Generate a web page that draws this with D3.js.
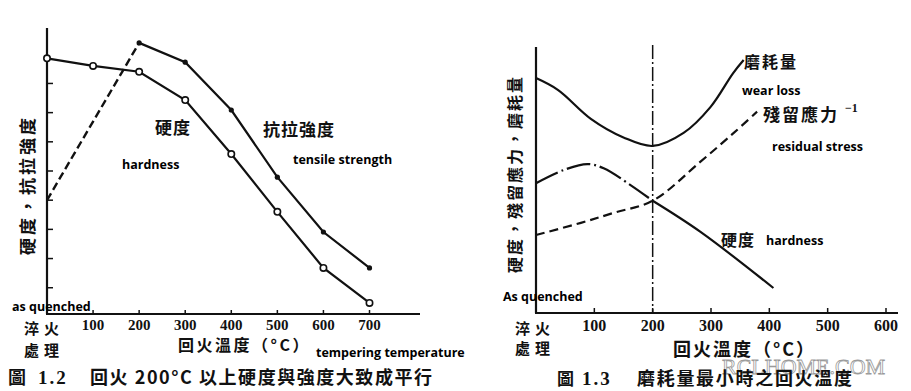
<!DOCTYPE html>
<html>
<head>
<meta charset="utf-8">
<script src="https://cdn.jsdelivr.net/npm/d3@7"></script>
<style>
  body { margin: 0; background: #fff; }
  svg { display: block; }
  .cjk { font-family: "Noto Sans CJK TC", "Noto Sans CJK SC", sans-serif; font-weight: 700; fill: #111; }
  .num { font-family: "Liberation Serif", serif; font-weight: 700; fill: #111; }
  .eng { font-family: "Open Sans", "Noto Sans", sans-serif; font-weight: 700; fill: #000; }
</style>
</head>
<body>
<div id="chart"></div>
<script>
// left panel: tempering vs hardness / tensile strength
const leftTemps = [0, 100, 200, 300, 400, 500, 600, 700];
const leftHardness = [8.86, 8.6, 8.4, 7.43, 5.58, 3.6, 1.68, 0.48];
const tensileTemps = [0, 200, 300, 400, 500, 600, 700];
const tensileStrength = [4.0, 9.39, 8.73, 7.09, 4.79, 2.91, 1.68];
const leftXTicks = [100, 200, 300, 400, 500, 600, 700];
const leftYTicks = [1, 2, 3, 4, 5, 6, 7, 8];

// right panel: wear loss, residual stress^-1, hardness
const wearTemps = [0, 38, 94, 150, 200, 253, 299, 338, 356];
const wearLoss = [8.83, 8.38, 7.3, 6.6, 6.28, 6.77, 7.74, 9.02, 9.51];
const hardTempsA = [0, 48, 88, 116, 162, 200];
const hardValuesA = [4.88, 5.38, 5.6, 5.44, 4.81, 4.22];
const hardTempsB = [200, 282, 407];
const hardValuesB = [4.22, 3.05, 0.94];
const stressTemps = [0, 77, 134, 200, 282, 339, 379];
const stressValues = [2.93, 3.39, 3.77, 4.22, 5.69, 6.77, 7.57];
const rightXTicks = [100, 200, 300, 400, 500, 600];
const minWearTemp = 200;

const svg = d3.select("#chart").append("svg")
  .attr("width", 911).attr("height", 391);
svg.append("rect").attr("width", 911).attr("height", 391).attr("fill", "#fff");

function zip(xs, ys) { return xs.map((x, i) => [x, ys[i]]); }

// ---------- left panel ----------
const xL = d3.scaleLinear().domain([0, 700]).range([47, 369.5]);
const yL = d3.scaleLinear().domain([0.1, 9.9]).range([314, 28]);
const gL = svg.append("g");

gL.append("line").attr("x1", 47).attr("x2", 47).attr("y1", 28).attr("y2", 314)
  .attr("stroke", "#111").attr("stroke-width", 2.2);
gL.append("line").attr("x1", 46).attr("x2", 420).attr("y1", 314).attr("y2", 314)
  .attr("stroke", "#111").attr("stroke-width", 2.2);
gL.selectAll(".yt").data(leftYTicks).join("line")
  .attr("x1", 47).attr("x2", 53).attr("y1", d => yL(d)).attr("y2", d => yL(d))
  .attr("stroke", "#111").attr("stroke-width", 1.5);
gL.selectAll(".xt").data(leftXTicks).join("line")
  .attr("x1", d => xL(d)).attr("x2", d => xL(d)).attr("y1", 314).attr("y2", 310)
  .attr("stroke", "#111").attr("stroke-width", 1.5);
gL.selectAll(".xl").data(leftXTicks).join("text").attr("class", "num")
  .attr("x", d => xL(d)).attr("y", 330).attr("text-anchor", "middle")
  .attr("font-size", 15).text(d => d);

const lineL = d3.line().x(d => xL(d[0])).y(d => yL(d[1]));
const tens = zip(tensileTemps, tensileStrength);
gL.append("path").attr("d", lineL(tens.slice(0, 2)))
  .attr("fill", "none").attr("stroke", "#111").attr("stroke-width", 2.4)
  .attr("stroke-dasharray", "8,4");
gL.append("path").attr("d", lineL(tens.slice(1)))
  .attr("fill", "none").attr("stroke", "#111").attr("stroke-width", 2.2);
gL.append("path").attr("d", lineL(zip(leftTemps, leftHardness)))
  .attr("fill", "none").attr("stroke", "#111").attr("stroke-width", 2.2);
gL.selectAll(".td").data(tens.slice(1)).join("circle")
  .attr("cx", d => xL(d[0])).attr("cy", d => yL(d[1])).attr("r", 2.6).attr("fill", "#111");
gL.selectAll(".hd").data(zip(leftTemps, leftHardness)).join("circle")
  .attr("cx", d => xL(d[0])).attr("cy", d => yL(d[1])).attr("r", 3.2)
  .attr("fill", "#fff").attr("stroke", "#111").attr("stroke-width", 1.6);

gL.append("text").attr("class", "cjk").attr("font-size", 17).attr("letter-spacing", 3)
  .attr("text-anchor", "middle").attr("transform", "translate(34,185) rotate(-90)")
  .text("硬度，抗拉強度");
gL.append("text").attr("class", "cjk").attr("x", 155).attr("y", 134).attr("font-size", 17).attr("letter-spacing", 1).text("硬度");
gL.append("text").attr("class", "cjk").attr("x", 263).attr("y", 136).attr("font-size", 17).attr("letter-spacing", 1).text("抗拉強度");
gL.append("text").attr("class", "eng").attr("x", 122).attr("y", 169).attr("font-size", 12.5).text("hardness");
gL.append("text").attr("class", "eng").attr("x", 293).attr("y", 164).attr("font-size", 12.5).text("tensile strength");
gL.append("text").attr("class", "eng").attr("x", 12).attr("y", 311).attr("font-size", 12.5).text("as quenched");
gL.append("text").attr("class", "cjk").attr("x", 24).attr("y", 334).attr("font-size", 15).attr("letter-spacing", 5).text("淬火");
gL.append("text").attr("class", "cjk").attr("x", 24).attr("y", 356).attr("font-size", 15).attr("letter-spacing", 5).text("處理");
gL.append("text").attr("class", "cjk").attr("x", 178).attr("y", 351).attr("font-size", 16).attr("letter-spacing", 2.5).text("回火溫度（°C）");
gL.append("text").attr("class", "eng").attr("x", 316).attr("y", 357).attr("font-size", 12.5).text("tempering temperature");
gL.append("text").attr("class", "cjk").attr("x", 8).attr("y", 384).attr("font-size", 18).text("圖");
gL.append("text").attr("class", "num").attr("x", 38).attr("y", 384).attr("font-size", 19).attr("letter-spacing", 2).text("1.2");
gL.append("text").attr("class", "cjk").attr("x", 90).attr("y", 384).attr("font-size", 18)
  .attr("textLength", 342).attr("lengthAdjust", "spacing").text("回火 200°C 以上硬度與強度大致成平行");

// ---------- right panel ----------
const xR = d3.scaleLinear().domain([0, 600]).range([536, 886]);
const yR = d3.scaleLinear().domain([0, 10]).range([313, 47]);
const gR = svg.append("g");

gR.append("line").attr("x1", 536).attr("x2", 536).attr("y1", 47).attr("y2", 313)
  .attr("stroke", "#111").attr("stroke-width", 2.2);
gR.append("line").attr("x1", 535).attr("x2", 898).attr("y1", 313).attr("y2", 313)
  .attr("stroke", "#111").attr("stroke-width", 2.2);
gR.selectAll(".xt").data(rightXTicks).join("line")
  .attr("x1", d => xR(d)).attr("x2", d => xR(d)).attr("y1", 313).attr("y2", 308)
  .attr("stroke", "#111").attr("stroke-width", 1.5);
gR.selectAll(".xl").data(rightXTicks).join("text").attr("class", "num")
  .attr("x", d => xR(d)).attr("y", 331).attr("text-anchor", "middle")
  .attr("font-size", 16).text(d => d);

gR.append("line").attr("x1", xR(minWearTemp)).attr("x2", xR(minWearTemp)).attr("y1", 45).attr("y2", 313)
  .attr("stroke", "#111").attr("stroke-width", 1.5).attr("stroke-dasharray", "14,3,2,3");

const lineR = d3.line().x(d => xR(d[0])).y(d => yR(d[1])).curve(d3.curveCatmullRom.alpha(0.5));
gR.append("path").attr("d", lineR(zip(wearTemps, wearLoss)))
  .attr("fill", "none").attr("stroke", "#111").attr("stroke-width", 2.2);
gR.append("path").attr("d", lineR(zip(hardTempsA, hardValuesA)))
  .attr("fill", "none").attr("stroke", "#111").attr("stroke-width", 2.2)
  .attr("stroke-dasharray", "24,4,2,4");
gR.append("path").attr("d", lineR(zip(hardTempsB, hardValuesB)))
  .attr("fill", "none").attr("stroke", "#111").attr("stroke-width", 2.2);
gR.append("path").attr("d", lineR(zip(stressTemps, stressValues)))
  .attr("fill", "none").attr("stroke", "#111").attr("stroke-width", 2.2)
  .attr("stroke-dasharray", "9,5");

gR.append("text").attr("class", "cjk").attr("font-size", 16).attr("letter-spacing", 2)
  .attr("text-anchor", "middle").attr("transform", "translate(521,174) rotate(-90)")
  .text("硬度，殘留應力，磨耗量");
gR.append("text").attr("class", "cjk").attr("x", 744).attr("y", 68).attr("font-size", 16).attr("letter-spacing", 2).text("磨耗量");
gR.append("text").attr("class", "eng").attr("x", 742).attr("y", 95).attr("font-size", 12.5).text("wear loss");
gR.append("text").attr("class", "cjk").attr("x", 763).attr("y", 121).attr("font-size", 17).attr("letter-spacing", 2).text("殘留應力");
gR.append("text").attr("class", "num").attr("x", 845).attr("y", 112).attr("font-size", 12).text("−1");
gR.append("text").attr("class", "eng").attr("x", 772).attr("y", 151).attr("font-size", 12.5).text("residual stress");
gR.append("text").attr("class", "cjk").attr("x", 721).attr("y", 246).attr("font-size", 16).attr("letter-spacing", 1).text("硬度");
gR.append("text").attr("class", "eng").attr("x", 766).attr("y", 245).attr("font-size", 12.5).text("hardness");
gR.append("text").attr("class", "eng").attr("x", 503).attr("y", 301).attr("font-size", 12.5).text("As quenched");
gR.append("text").attr("class", "cjk").attr("x", 515).attr("y", 334).attr("font-size", 15).attr("letter-spacing", 5).text("淬火");
gR.append("text").attr("class", "cjk").attr("x", 515).attr("y", 354).attr("font-size", 15).attr("letter-spacing", 5).text("處理");
gR.append("text").attr("class", "cjk").attr("x", 673).attr("y", 356).attr("font-size", 18).attr("letter-spacing", 2).text("回火溫度（°C）");
gR.append("text").attr("x", 722).attr("y", 374).attr("font-family", "Liberation Serif, serif")
  .attr("font-size", 22).attr("fill", "#fff").attr("stroke", "#9a9a9a").attr("stroke-width", 0.8)
  .text("RCLHOME.COM");
gR.append("text").attr("class", "cjk").attr("x", 557).attr("y", 385).attr("font-size", 17).text("圖");
gR.append("text").attr("class", "num").attr("x", 582).attr("y", 385).attr("font-size", 19).attr("letter-spacing", 2).text("1.3");
gR.append("text").attr("class", "cjk").attr("x", 637).attr("y", 385).attr("font-size", 18)
  .attr("textLength", 215).attr("lengthAdjust", "spacing").text("磨耗量最小時之回火溫度");
</script>
</body>
</html>
